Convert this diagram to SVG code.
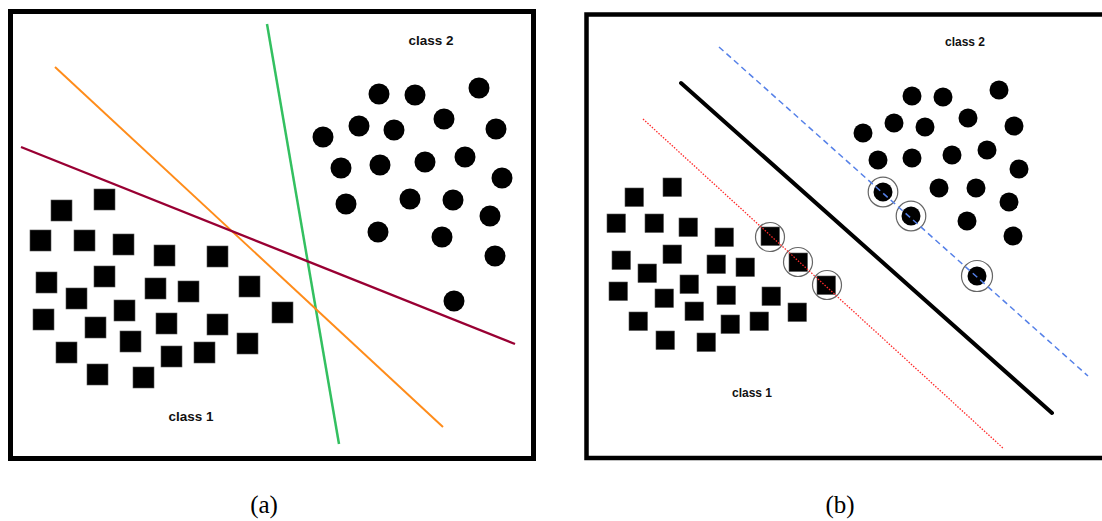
<svg xmlns="http://www.w3.org/2000/svg" width="1102" height="521" viewBox="0 0 1102 521">
<style>
.frame{fill:none;stroke:#000}
.sqa{fill:#000;stroke:#555;stroke-width:0.6}
.dot{fill:#000}
.ring{fill:none;stroke:#666;stroke-width:1.2}
.lbl{font-family:"Liberation Sans",Arial,sans-serif;font-weight:bold;fill:#111;text-anchor:middle}
.cap{font-family:"Liberation Serif","Times New Roman",serif;font-size:25px;fill:#000;text-anchor:middle}
</style>
<rect width="1102" height="521" fill="#fff"/>
<g id="panel-a">
<rect class="frame" x="10.5" y="11.5" width="523" height="447" stroke-width="5"/>
<g id="a-class1-points">
<rect class="sqa" x="51" y="200" width="21" height="21"/>
<rect class="sqa" x="94" y="189" width="21" height="21"/>
<rect class="sqa" x="30" y="230" width="21" height="21"/>
<rect class="sqa" x="74" y="230" width="21" height="21"/>
<rect class="sqa" x="113" y="234" width="21" height="21"/>
<rect class="sqa" x="154" y="245" width="21" height="21"/>
<rect class="sqa" x="207" y="246" width="21" height="21"/>
<rect class="sqa" x="36" y="272" width="21" height="21"/>
<rect class="sqa" x="94" y="266" width="21" height="21"/>
<rect class="sqa" x="66" y="288" width="21" height="21"/>
<rect class="sqa" x="145" y="278" width="21" height="21"/>
<rect class="sqa" x="178" y="281" width="21" height="21"/>
<rect class="sqa" x="239" y="276" width="21" height="21"/>
<rect class="sqa" x="272" y="302" width="21" height="21"/>
<rect class="sqa" x="33" y="309" width="21" height="21"/>
<rect class="sqa" x="114" y="300" width="21" height="21"/>
<rect class="sqa" x="85" y="317" width="21" height="21"/>
<rect class="sqa" x="156" y="313" width="21" height="21"/>
<rect class="sqa" x="207" y="314" width="21" height="21"/>
<rect class="sqa" x="120" y="331" width="21" height="21"/>
<rect class="sqa" x="56" y="342" width="21" height="21"/>
<rect class="sqa" x="161" y="346" width="21" height="21"/>
<rect class="sqa" x="194" y="342" width="21" height="21"/>
<rect class="sqa" x="237" y="333" width="21" height="21"/>
<rect class="sqa" x="87" y="364" width="21" height="21"/>
<rect class="sqa" x="133" y="367" width="21" height="21"/>
</g>
<g id="a-class2-points">
<circle class="dot" cx="379" cy="94" r="10.5"/>
<circle class="dot" cx="415" cy="95" r="10.5"/>
<circle class="dot" cx="479" cy="88" r="10.5"/>
<circle class="dot" cx="359" cy="126" r="10.5"/>
<circle class="dot" cx="394" cy="130" r="10.5"/>
<circle class="dot" cx="444" cy="119" r="10.5"/>
<circle class="dot" cx="496" cy="129" r="10.5"/>
<circle class="dot" cx="323" cy="137" r="10.5"/>
<circle class="dot" cx="341" cy="168" r="10.5"/>
<circle class="dot" cx="380" cy="165" r="10.5"/>
<circle class="dot" cx="425" cy="162" r="10.5"/>
<circle class="dot" cx="465" cy="157" r="10.5"/>
<circle class="dot" cx="502" cy="178" r="10.5"/>
<circle class="dot" cx="346" cy="204" r="10.5"/>
<circle class="dot" cx="410" cy="199" r="10.5"/>
<circle class="dot" cx="453" cy="200" r="10.5"/>
<circle class="dot" cx="490" cy="216" r="10.5"/>
<circle class="dot" cx="378" cy="232" r="10.5"/>
<circle class="dot" cx="442" cy="237" r="10.5"/>
<circle class="dot" cx="495" cy="256" r="10.5"/>
<circle class="dot" cx="454" cy="301" r="10.5"/>
</g>
<text class="lbl" x="191" y="421" font-size="13.5">class 1</text>
<text class="lbl" x="431" y="45" font-size="13.5">class 2</text>
</g>
<g id="panel-b">
<rect class="frame" x="586.5" y="14.5" width="522" height="443.5" stroke-width="4.5"/>
<g id="b-class1-points">
<rect class="sqa" x="625" y="188" width="18.5" height="18.5"/>
<rect class="sqa" x="663" y="178" width="18.5" height="18.5"/>
<rect class="sqa" x="607" y="214" width="18.5" height="18.5"/>
<rect class="sqa" x="645" y="214" width="18.5" height="18.5"/>
<rect class="sqa" x="679" y="218" width="18.5" height="18.5"/>
<rect class="sqa" x="715" y="228" width="18.5" height="18.5"/>
<rect class="sqa" x="761" y="227" width="18.5" height="18.5"/>
<rect class="sqa" x="612" y="251" width="18.5" height="18.5"/>
<rect class="sqa" x="663" y="245" width="18.5" height="18.5"/>
<rect class="sqa" x="638" y="264" width="18.5" height="18.5"/>
<rect class="sqa" x="707" y="255" width="18.5" height="18.5"/>
<rect class="sqa" x="736" y="258" width="18.5" height="18.5"/>
<rect class="sqa" x="789" y="253" width="18.5" height="18.5"/>
<rect class="sqa" x="609" y="282" width="18.5" height="18.5"/>
<rect class="sqa" x="680" y="275" width="18.5" height="18.5"/>
<rect class="sqa" x="655" y="289" width="18.5" height="18.5"/>
<rect class="sqa" x="717" y="286" width="18.5" height="18.5"/>
<rect class="sqa" x="762" y="287" width="18.5" height="18.5"/>
<rect class="sqa" x="817" y="276" width="18.5" height="18.5"/>
<rect class="sqa" x="629" y="312" width="18.5" height="18.5"/>
<rect class="sqa" x="685" y="302" width="18.5" height="18.5"/>
<rect class="sqa" x="721" y="315" width="18.5" height="18.5"/>
<rect class="sqa" x="750" y="312" width="18.5" height="18.5"/>
<rect class="sqa" x="788" y="303" width="18.5" height="18.5"/>
<rect class="sqa" x="656" y="331" width="18.5" height="18.5"/>
<rect class="sqa" x="697" y="333" width="18.5" height="18.5"/>
</g>
<g id="b-class2-points">
<circle class="dot" cx="912" cy="96" r="9.5"/>
<circle class="dot" cx="943" cy="97" r="9.5"/>
<circle class="dot" cx="999" cy="90" r="9.5"/>
<circle class="dot" cx="894" cy="123" r="9.5"/>
<circle class="dot" cx="925" cy="127" r="9.5"/>
<circle class="dot" cx="968" cy="118" r="9.5"/>
<circle class="dot" cx="1014" cy="126" r="9.5"/>
<circle class="dot" cx="863" cy="133" r="9.5"/>
<circle class="dot" cx="878" cy="160" r="9.5"/>
<circle class="dot" cx="912" cy="158" r="9.5"/>
<circle class="dot" cx="952" cy="155" r="9.5"/>
<circle class="dot" cx="987" cy="150" r="9.5"/>
<circle class="dot" cx="1019" cy="169" r="9.5"/>
<circle class="dot" cx="883" cy="192" r="9.5"/>
<circle class="dot" cx="939" cy="188" r="9.5"/>
<circle class="dot" cx="976" cy="188" r="9.5"/>
<circle class="dot" cx="1009" cy="202" r="9.5"/>
<circle class="dot" cx="911" cy="216" r="9.5"/>
<circle class="dot" cx="967" cy="221" r="9.5"/>
<circle class="dot" cx="1013" cy="236" r="9.5"/>
<circle class="dot" cx="977" cy="276" r="9.5"/>
</g>
<g id="b-support-vectors">
<circle class="ring" cx="770" cy="237" r="14.5"/>
<circle class="ring" cx="798" cy="262" r="14.5"/>
<circle class="ring" cx="827" cy="285" r="14.5"/>
<circle class="ring" cx="883" cy="192" r="14.8"/>
<circle class="ring" cx="911" cy="216" r="14.8"/>
<circle class="ring" cx="977" cy="276" r="15.5"/>
</g>
<text class="lbl" x="965" y="46" font-size="12">class 2</text>
<text class="lbl" x="752" y="397" font-size="12">class 1</text>
</g>
<g id="connectors" fill="none">
<line x1="267" y1="24" x2="339" y2="444" stroke="#33c060" stroke-width="2.5"/>
<line x1="55" y1="67" x2="443" y2="427" stroke="#ff8c1a" stroke-width="2"/>
<line x1="21" y1="147" x2="515" y2="344" stroke="#990033" stroke-width="2.4"/>
<line x1="681" y1="83" x2="1052" y2="413" stroke="#000" stroke-width="4" stroke-linecap="round"/>
<line x1="719" y1="47" x2="1088" y2="376" stroke="#5580e8" stroke-width="1.5" stroke-dasharray="6,4"/>
<line x1="643" y1="119" x2="1004" y2="449" stroke="#ff2a2a" stroke-width="1.3" stroke-dasharray="1.5,1.5"/>
</g>
<text class="cap" x="264" y="513">(a)</text>
<text class="cap" x="840" y="513">(b)</text>
</svg>
